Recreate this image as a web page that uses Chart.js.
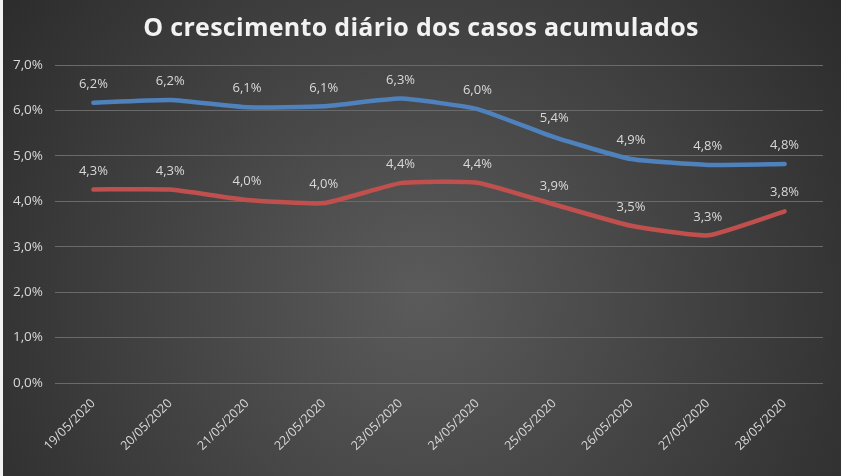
<!DOCTYPE html>
<html>
<head>
<meta charset="utf-8">
<script src="https://cdn.jsdelivr.net/npm/chart.js@4.4.0/dist/chart.umd.min.js"></script>
<style>
html,body{margin:0;padding:0;background:#2e2e2e;}
#wrap{position:relative;width:841px;height:476px;}
#wrap:before{content:"";position:absolute;left:0;top:0;width:3px;height:476px;background:#f2f2f2;z-index:2;}
canvas{display:block;}
</style>
</head>
<body>
<div id="wrap"><canvas id="c" width="841" height="476"></canvas></div>
<script>
const categories = ["19/05/2020","20/05/2020","21/05/2020","22/05/2020","23/05/2020","24/05/2020","25/05/2020","26/05/2020","27/05/2020","28/05/2020"];
const seriesBlue = [6.17, 6.23, 6.07, 6.09, 6.26, 6.03, 5.41, 4.93, 4.80, 4.82];
const seriesRed  = [4.26, 4.26, 4.03, 3.96, 4.40, 4.41, 3.93, 3.46, 3.25, 3.78];
const titleText = "O crescimento diário dos casos acumulados";

const fmt = v => v.toFixed(1).replace('.', ',') + '%';

const bgPlugin = {
  id: 'bg',
  beforeDraw(chart) {
    const {ctx, width, height} = chart;
    const g = ctx.createRadialGradient(width*0.5, height*0.62, 10, width*0.5, height*0.62, width*0.62);
    g.addColorStop(0, '#5a5a5a');
    g.addColorStop(1, '#2b2b2b');
    ctx.save();
    ctx.fillStyle = g;
    ctx.fillRect(0, 0, width, height);
    ctx.restore();
  }
};

const titlePlugin = {
  id: 'ttl',
  afterDraw(chart) {
    const ctx = chart.ctx;
    ctx.save();
    ctx.font = 'bold 25px "Open Sans", sans-serif';
    if ('letterSpacing' in ctx) ctx.letterSpacing = '0.3px';
    ctx.fillStyle = '#f2f2f2';
    ctx.textAlign = 'center';
    ctx.textBaseline = 'middle';
    ctx.fillText(titleText, 421, 29);
    ctx.restore();
  }
};

const labelPlugin = {
  id: 'vlabels',
  afterDatasetsDraw(chart) {
    const ctx = chart.ctx;
    ctx.save();
    ctx.font = '13px "Open Sans", sans-serif';
    ctx.fillStyle = '#d9d9d9';
    ctx.textAlign = 'center';
    ctx.textBaseline = 'bottom';
    chart.data.datasets.forEach((ds, i) => {
      const meta = chart.getDatasetMeta(i);
      meta.data.forEach((pt, j) => {
        ctx.fillText(fmt(ds.data[j]), pt.x, pt.y - 12);
      });
    });
    ctx.restore();
  }
};

new Chart(document.getElementById('c'), {
  type: 'line',
  data: {
    labels: categories,
    datasets: [
      { data: seriesBlue, borderColor: '#4f81bd', borderWidth: 4.5, pointRadius: 0, tension: 0.15, borderCapStyle: 'round', borderJoinStyle: 'round' },
      { data: seriesRed, borderColor: '#c0504d', borderWidth: 4.5, pointRadius: 0, tension: 0.15, borderCapStyle: 'round', borderJoinStyle: 'round' }
    ]
  },
  options: {
    responsive: false,
    animation: false,
    devicePixelRatio: 1,
    layout: { padding: { left: 8, right: 18, top: 65, bottom: 0 } },
    plugins: {
      legend: { display: false },
      tooltip: { enabled: false },
      title: { display: false }
    },
    scales: {
      x: {
        offset: true,
        grid: { display: false },
        border: { display: false },
        afterFit: s => { s.height = 93; },
        ticks: {
          color: '#d9d9d9',
          font: { family: '"Open Sans", sans-serif', size: 12.5 },
          minRotation: 45, maxRotation: 45,
          padding: 5
        }
      },
      y: {
        min: 0, max: 7,
        grid: { color: '#6a6a6a', lineWidth: 1, drawTicks: false },
        border: { display: false },
        afterFit: s => { s.width = 47; },
        ticks: {
          stepSize: 1,
          color: '#d9d9d9',
          font: { family: '"Open Sans", sans-serif', size: 13.5 },
          padding: 12,
          callback: v => fmt(v)
        }
      }
    }
  },
  plugins: [bgPlugin, labelPlugin, titlePlugin]
});
</script>
</body>
</html>
